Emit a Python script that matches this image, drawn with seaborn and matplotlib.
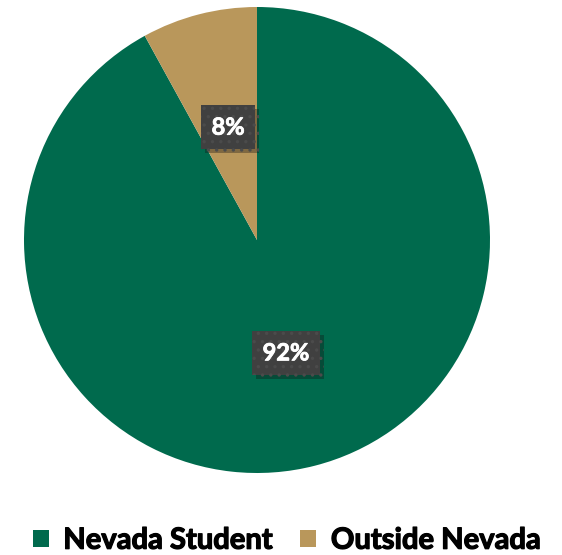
import matplotlib
matplotlib.use("Agg")
import matplotlib.pyplot as plt
import matplotlib.patheffects as pe
import numpy as np
import seaborn as sns

categories = ["Nevada Student", "Outside Nevada"]
values = [92, 8]
colors = ["#006A4D", "#B9975B"]

sns.set_style("white")
plt.rcParams['font.family'] = ['Lato', 'DejaVu Sans']
plt.rcParams['hatch.linewidth'] = 1.2

fig = plt.figure(figsize=(5.62, 5.55), dpi=100)
ax = fig.add_axes([24/562, 82/555, 466/562, 466/555])
wedges, texts = ax.pie(values, colors=sns.color_palette(colors), startangle=90,
                       counterclock=False, radius=1.0,
                       wedgeprops=dict(linewidth=0))
ax.set_xlim(-1, 1); ax.set_ylim(-1, 1)
ax.set_aspect('equal')
for w, v in zip(wedges, values):
    mid = np.deg2rad((w.theta1 + w.theta2) / 2)
    x, y = 0.5 * np.cos(mid), 0.5 * np.sin(mid)
    t = ax.text(x, y, f"{v}%", ha='center', va='center', color='white',
                fontsize=17, fontweight='bold',
                bbox=dict(boxstyle='square,pad=0.45', fc='#404040', ec='#4b4b4b',
                          linewidth=0, hatch='..'))
    t.set_path_effects([pe.withStroke(linewidth=0.6, foreground='white')])
    t.get_bbox_patch().set_path_effects([pe.SimplePatchShadow(offset=(3, -3), alpha=0.35), pe.Normal()])

leg = fig.legend(wedges, categories, loc='lower center', bbox_to_anchor=(0.51, -0.045),
                 ncol=2, frameon=False, handlelength=0.55, handleheight=0.55,
                 handletextpad=0.5, columnspacing=0.95,
                 prop=dict(family='Lato', weight='bold', size=21))
for txt in leg.get_texts():
    txt.set_color('black')
    txt.set_path_effects([pe.withStroke(linewidth=0.9, foreground='black')])
fig.savefig("out.png", dpi=100)
